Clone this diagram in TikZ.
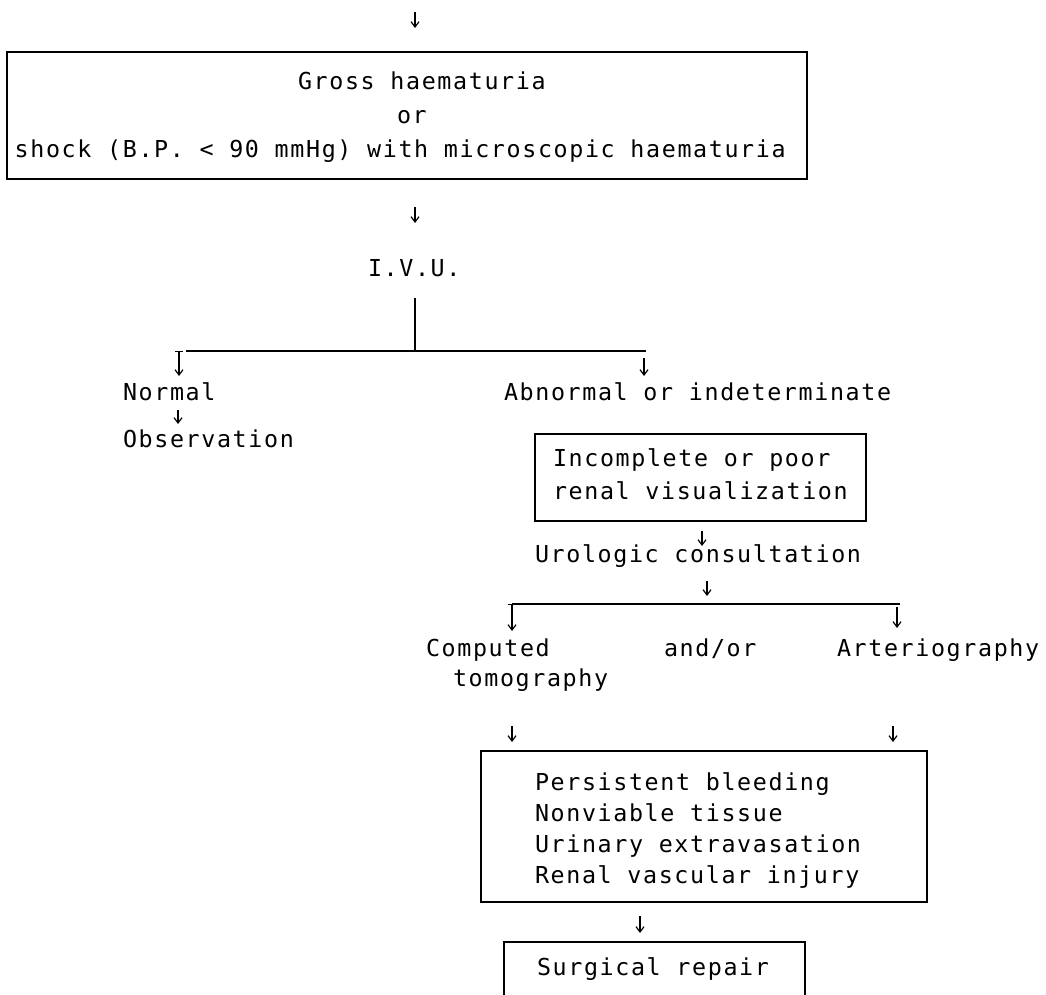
\documentclass[tikz,border=0pt]{standalone}
\usepackage{fontspec}
\newfontfamily\tw{DejaVu Sans Mono}[LetterSpace=7.0]
\usetikzlibrary{arrows.meta}
\newlength\px \setlength\px{0.75pt}
\begin{document}
\begin{tikzpicture}[x=0.75pt,y=-0.75pt,
  txt/.style={anchor=base west,inner sep=0pt,outer sep=0pt,font=\tw\fontsize{17.5pt}{21pt}\selectfont},
  box/.style={draw,line width=1.2pt,anchor=north west,inner sep=0pt,outer sep=0pt},
  arr/.style={line width=0.9pt,-{Straight Barb[length=4pt,width=6pt]}},
  sarr/.style={line width=0.9pt,{Bar[width=6pt]}-{Straight Barb[length=4pt,width=6pt]}},
  ln/.style={line width=1.2pt}]
\useasboundingbox (0,0) rectangle (1046,995);
\clip (0,0) rectangle (1046,995);
% boxes
\node[box,minimum width=800\px,minimum height=127\px] (box1) at (7,52) {};
\node[box,minimum width=331\px,minimum height=87\px] (box2) at (535,434) {};
\node[box,minimum width=446\px,minimum height=151\px] (box3) at (481,751) {};
\node[box,minimum width=301\px,minimum height=80\px] (box4) at (504,942) {};
% texts
\node[txt] (t1) at (298,90) {Gross haematuria};
\node[txt] (t2) at (397,124) {or};
\node[txt] (t3) at (14.7,158) {shock (B.P. < 90 mmHg) with microscopic haematuria};
\node[txt] (ivu) at (368,276) {I.V.U.};
\node[txt] (normal) at (123,400) {Normal};
\node[txt] (obs) at (123,447) {Observation};
\node[txt] (abn) at (504,400) {Abnormal or indeterminate};
\node[txt] (inc1) at (553,466) {Incomplete or poor};
\node[txt] (inc2) at (553,499) {renal visualization};
\node[txt] (uro) at (535,562) {Urologic consultation};
\node[txt] (ct1) at (426,656) {Computed};
\node[txt] (ct2) at (453,686) {tomography};
\node[txt] (andor) at (664,656) {and/or};
\node[txt] (art) at (837,656) {Arteriography};
\node[txt] (p1) at (535,790) {Persistent bleeding};
\node[txt] (p2) at (535,821) {Nonviable tissue};
\node[txt] (p3) at (535,852) {Urinary extravasation};
\node[txt] (p4) at (535,883) {Renal vascular injury};
\node[txt] (surg) at (537,975) {Surgical repair};
% connector end points
\coordinate (a0s) at (415,12);  \coordinate (a0e) at (415,28);
\coordinate (a1s) at (415,207); \coordinate (a1e) at (415,223);
\coordinate (v1s) at (415,298); \coordinate (v1e) at (415,351);
\coordinate (h1l) at (186,351); \coordinate (h1r) at (646,351);
\coordinate (l1s) at (179,351); \coordinate (l1e) at (179,376);
\coordinate (r1s) at (644,358); \coordinate (r1e) at (644,376);
\coordinate (n1s) at (178,410); \coordinate (n1e) at (178,424);
\coordinate (b2s) at (702,531); \coordinate (b2e) at (702,546);
\coordinate (u1s) at (707,581); \coordinate (u1e) at (707,596);
\coordinate (h2l) at (512,604); \coordinate (h2r) at (900,604);
\coordinate (l2s) at (512,604); \coordinate (l2e) at (512,631);
\coordinate (r2s) at (897,607); \coordinate (r2e) at (897,628);
\coordinate (c1s) at (512,726); \coordinate (c1e) at (512,742);
\coordinate (c2s) at (893,726); \coordinate (c2e) at (893,742);
\coordinate (b3s) at (640,916); \coordinate (b3e) at (640,933);
% connectors
\draw[arr] (a0s) -- (a0e);
\draw[arr] (a1s) -- (a1e);
\draw[ln] (v1s) -- (v1e);
\draw[ln] (h1l) -- (h1r);
\draw[sarr] (l1s) -- (l1e);
\draw[arr] (r1s) -- (r1e);
\draw[arr] (n1s) -- (n1e);
\draw[arr] (b2s) -- (b2e);
\draw[arr] (u1s) -- (u1e);
\draw[ln] (h2l) -- (h2r);
\draw[sarr] (l2s) -- (l2e);
\draw[arr] (r2s) -- (r2e);
\draw[arr] (c1s) -- (c1e);
\draw[arr] (c2s) -- (c2e);
\draw[arr] (b3s) -- (b3e);
\end{tikzpicture}
\end{document}
